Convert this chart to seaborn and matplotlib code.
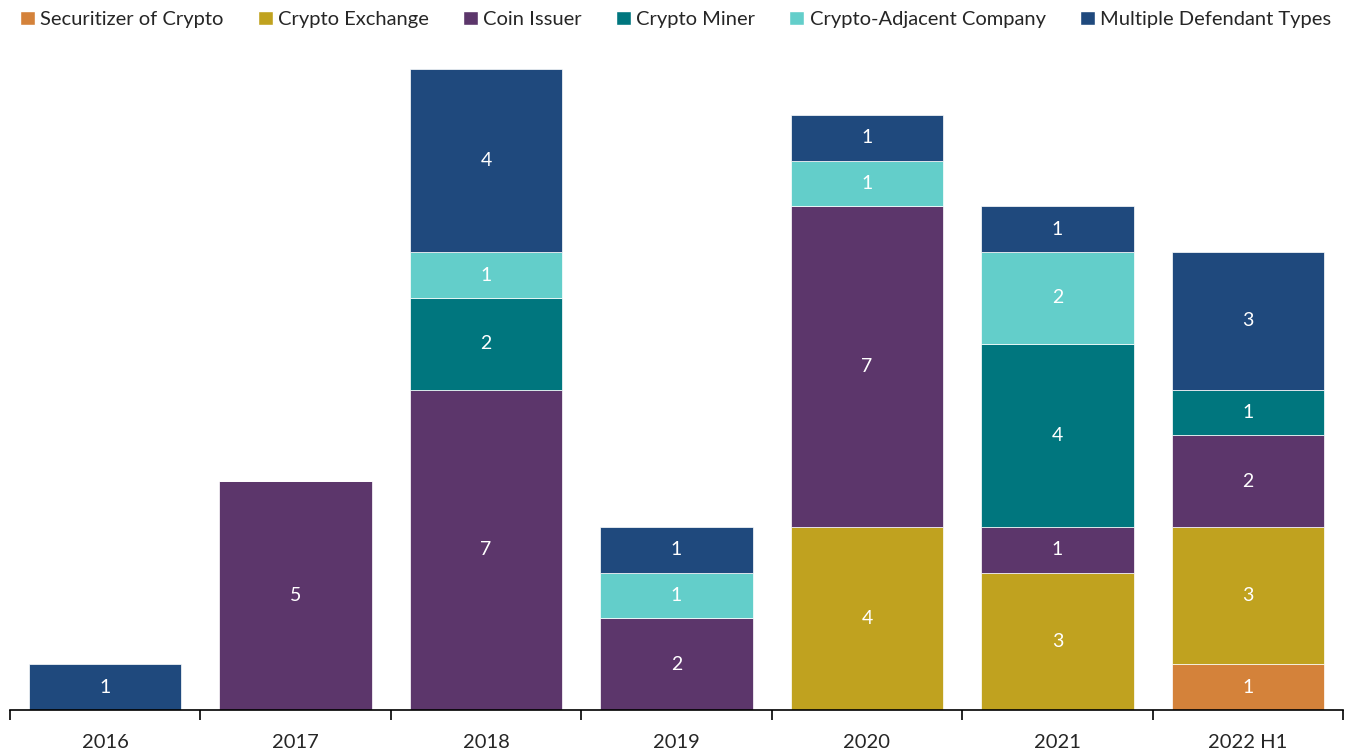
import matplotlib
matplotlib.use("Agg")
import matplotlib.pyplot as plt
import seaborn as sns
import numpy as np
import pandas as pd
from matplotlib.patches import Patch

years = ["2016", "2017", "2018", "2019", "2020", "2021", "2022 H1"]
series_names = ["Securitizer of Crypto", "Crypto Exchange", "Coin Issuer",
                "Crypto Miner", "Crypto-Adjacent Company", "Multiple Defendant Types"]
securitizer = [0, 0, 0, 0, 0, 0, 1]
exchange = [0, 0, 0, 0, 4, 3, 3]
coin_issuer = [0, 5, 7, 2, 7, 1, 2]
miner = [0, 0, 2, 0, 0, 4, 1]
adjacent = [0, 0, 1, 1, 1, 2, 0]
multiple = [1, 0, 4, 1, 1, 1, 3]
colors = ["#D4823A", "#C0A21F", "#5C366B", "#00767E", "#63CECA", "#1F497D"]

sns.set_style("white")
plt.rcParams["font.family"] = ["Lato", "DejaVu Sans"]

fig = plt.figure(figsize=(13.51, 7.52), dpi=100)
ax = fig.add_axes([10/1351, 42/752, 1333/1351, (710-69)/752])

data = [securitizer, exchange, coin_issuer, miner, adjacent, multiple]
bottom = np.zeros(len(years))
for name, vals, col in zip(series_names, data, colors):
    vals = np.array(vals, dtype=float)
    df = pd.DataFrame({"year": years, "value": vals})
    sns.barplot(data=df, x="year", y="value", bottom=bottom, color=col,
                width=0.8, ax=ax, edgecolor="white", linewidth=0.5,
                saturation=1, errorbar=None)
    for i, v in enumerate(vals):
        if v > 0:
            ax.text(i, bottom[i] + v / 2, f"{int(v)}", ha="center", va="center",
                    color="white", fontsize=14)
    bottom += vals

ax.set_xlim(-0.5, len(years) - 0.5)
ax.set_ylim(0, 14)
ax.set_xlabel("")
ax.set_ylabel("")
ax.set_yticks([])
for s in ["top", "right", "left"]:
    ax.spines[s].set_visible(False)
ax.spines["bottom"].set_color("black")
ax.spines["bottom"].set_linewidth(1.2)
ax.set_xticks(np.arange(len(years)))
ax.set_xticklabels(years, fontsize=14.5)
ax.tick_params(axis="x", which="major", length=0, pad=17)
ax.set_xticks(np.arange(-0.5, len(years)), minor=True)
ax.tick_params(axis="x", which="minor", bottom=True, length=7, width=1.2,
               color="black", direction="out")

handles = [Patch(facecolor=c, label=n) for n, c in zip(series_names, colors)]
fig.legend(handles=handles, loc="upper center", bbox_to_anchor=(0.5, 1.01), ncol=6,
           frameon=False, fontsize=14.5, handlelength=0.75, handleheight=0.75,
           handletextpad=0.25, columnspacing=1.7)

fig.savefig("out.png", dpi=100)
